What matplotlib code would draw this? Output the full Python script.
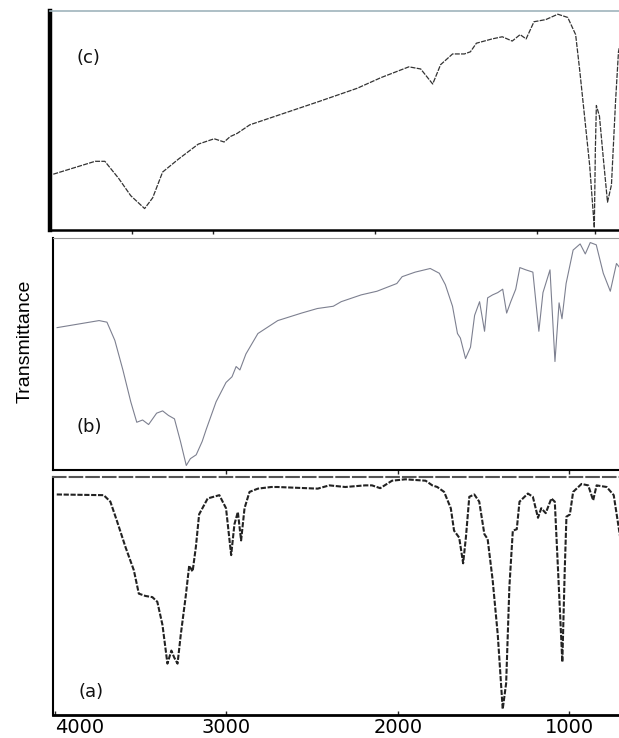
import matplotlib.pyplot as plt

# (a) spectrum: wavenumber (cm-1) vs transmittance (%)
wn_a = [3990, 3716, 3677, 3638, 3589, 3540, 3511, 3472, 3432, 3403, 3373, 3344,
        3321, 3305, 3285, 3266, 3237, 3217, 3197, 3178, 3159, 3109, 3041, 3002,
        2972, 2953, 2933, 2914, 2894, 2865, 2816, 2738, 2702, 2467, 2399, 2306,
        2190, 2150, 2102, 2033, 1955, 1837, 1798, 1769, 1729, 1690, 1671, 1641,
        1618, 1602, 1582, 1553, 1524, 1494, 1475, 1446, 1416, 1387, 1367, 1348,
        1328, 1305, 1289, 1240, 1211, 1181, 1162, 1136, 1103, 1083, 1064, 1039,
        1025, 1015, 995, 976, 927, 888, 859, 839, 780, 739, 701, 688]
t_a = [93.5, 93.2, 90.4, 82, 71, 61, 51, 50, 49.5, 47.5, 37.6, 21,
       26.6, 23.7, 21, 33.5, 50, 63, 60.5, 71, 85, 91.8, 93.2, 87.6,
       67.5, 80.7, 86, 73.8, 87.6, 94.6, 96, 96.7, 96.7, 96, 97.4, 96.7,
       97.4, 97.4, 96.2, 99.4, 100, 99.4, 97.4, 96.7, 94.6, 87.6, 78, 75,
       64, 75, 92.5, 93.5, 90.4, 76.5, 74.4, 57, 33.5, 1.5, 12.6, 54,
       78, 78.6, 90.4, 93.9, 92.5, 83.5, 87.6, 85.5, 91.8, 90.4, 61, 21.7,
       61, 84, 84.9, 94.6, 98, 97.4, 91, 97.4, 96.7, 93.2, 75, 66.8]

# (b) spectrum
wn_b = [3988, 3743, 3697, 3651, 3604, 3558, 3523, 3489, 3454, 3407, 3372, 3338,
        3303, 3268, 3234, 3210, 3176, 3141, 3117, 3060, 3002, 2967, 2943, 2921,
        2886, 2816, 2700, 2561, 2469, 2376, 2330, 2213, 2121, 2005, 1974, 1898,
        1810, 1757, 1722, 1680, 1651, 1634, 1604, 1575, 1551, 1522, 1493, 1475,
        1446, 1416, 1387, 1364, 1340, 1311, 1287, 1252, 1211, 1176, 1152, 1111,
        1082, 1058, 1041, 1017, 976, 935, 905, 876, 841, 800, 759, 723, 694]
t_b = [61.6, 64.7, 64, 56, 43, 29, 20, 21, 19, 24, 25, 23,
       21.5, 11.6, 1, 4, 5.7, 11.6, 17, 29, 37.5, 40, 44.5, 43,
       50, 59, 64.7, 68, 70, 71, 73, 76, 77.6, 81, 84, 86,
       87.6, 85.5, 80.5, 71, 59, 57, 48, 53, 67, 73, 60, 74.7,
       76, 77, 78.5, 68, 73, 78.5, 88, 87, 86, 60, 77, 87,
       46.7, 72.5, 65.5, 81, 95.7, 98.4, 94, 99, 98, 85.5, 77.6, 89.8, 87]

# (c) spectrum
wn_c = [4010, 3766, 3709, 3628, 3558, 3477, 3430, 3372, 3280, 3164, 3071, 3013,
        2978, 2937, 2863, 2469, 2237, 2097, 1935, 1866, 1796, 1750, 1680, 1611,
        1576, 1541, 1449, 1390, 1332, 1286, 1251, 1205, 1136, 1066, 1008, 962,
        939, 910, 880, 853, 847, 841, 823, 800, 776, 753, 729, 712, 688]
t_c = [25, 31, 31, 23, 15, 9, 14, 26, 32, 39, 41.5, 40,
       42.5, 44, 48, 58.6, 65, 70, 75, 74, 67, 76, 81, 81,
       82, 86, 88, 89, 87, 90, 88, 96, 97, 99.5, 98, 90,
       74, 52, 29, 0, 36, 57, 52, 32, 12, 20, 59, 82, 91]

ticks_ab = [4000, 3000, 2000, 1000]
tick_labels = ['4000', '3000', '2000', '1000']
ticks_c = [3550, 3080, 2130, 1190, 850]

fig = plt.figure(figsize=(6.19, 7.38), dpi=100)

ax_c = fig.add_axes([0.0808, 0.6883, 0.925, 0.2968])
ax_b = fig.add_axes([0.0856, 0.3631, 0.920, 0.3144])
ax_a = fig.add_axes([0.0856, 0.0312, 0.920, 0.3225])

ax_c.plot(wn_c, t_c, color='#333333', lw=0.9, ls=(0, (4, 1)))
ax_b.plot(wn_b, t_b, color='#7d8090', lw=0.8)
ax_a.plot(wn_a, t_a, color='#222222', lw=1.5, ls=(0, (2.5, 0.8)))

for ax in (ax_a, ax_b, ax_c):
    ax.set_xlim(4012, 688)
    ax.set_ylim(-1, 101)
    ax.set_yticks([])
    ax.spines['right'].set_visible(False)
    ax.tick_params(axis='x', direction='out', length=3, width=1, color='#222222')
ax_c.set_xlim(4029, 688)

# (c) frame
ax_c.spines['left'].set_linewidth(3.2)
ax_c.spines['bottom'].set_linewidth(1.8)
ax_c.spines['top'].set_color('#9fb4bc')
ax_c.spines['top'].set_linewidth(1.2)
ax_c.set_xticks(ticks_c)
ax_c.set_xticklabels([])

# (b) frame
ax_b.spines['left'].set_linewidth(1.5)
ax_b.spines['bottom'].set_linewidth(1.5)
ax_b.spines['top'].set_color('#999999')
ax_b.spines['top'].set_linewidth(0.8)
ax_b.set_xticks(ticks_ab[1:])
ax_b.set_xticklabels([])

# (a) frame
ax_a.spines['left'].set_linewidth(1.5)
ax_a.spines['bottom'].set_linewidth(2)
ax_a.spines['top'].set_color('#555555')
ax_a.spines['top'].set_linewidth(1.5)
ax_a.spines['top'].set_linestyle((0, (6, 2)))
ax_a.set_xticks(ticks_ab)
ax_a.set_xticklabels(tick_labels, fontsize=14, family='DejaVu Sans')
ax_a.tick_params(axis='x', direction='in', length=3, pad=2)
ax_a.get_xticklabels()[0].set_horizontalalignment('left')

fig.text(77 / 619, 1 - 63 / 738, '(c)', fontsize=13, color='#111111', va='baseline')
fig.text(77 / 619, 1 - 432 / 738, '(b)', fontsize=13, color='#111111', va='baseline')
fig.text(78 / 619, 1 - 697 / 738, '(a)', fontsize=13, color='#111111', va='baseline')

fig.text(25 / 619, 1 - 341 / 738, 'Transmittance', rotation=90, fontsize=14,
         family=['Liberation Sans Narrow', 'Liberation Sans'], ha='center', va='center')

fig.savefig('out.png', dpi=100)
plt.close(fig)
